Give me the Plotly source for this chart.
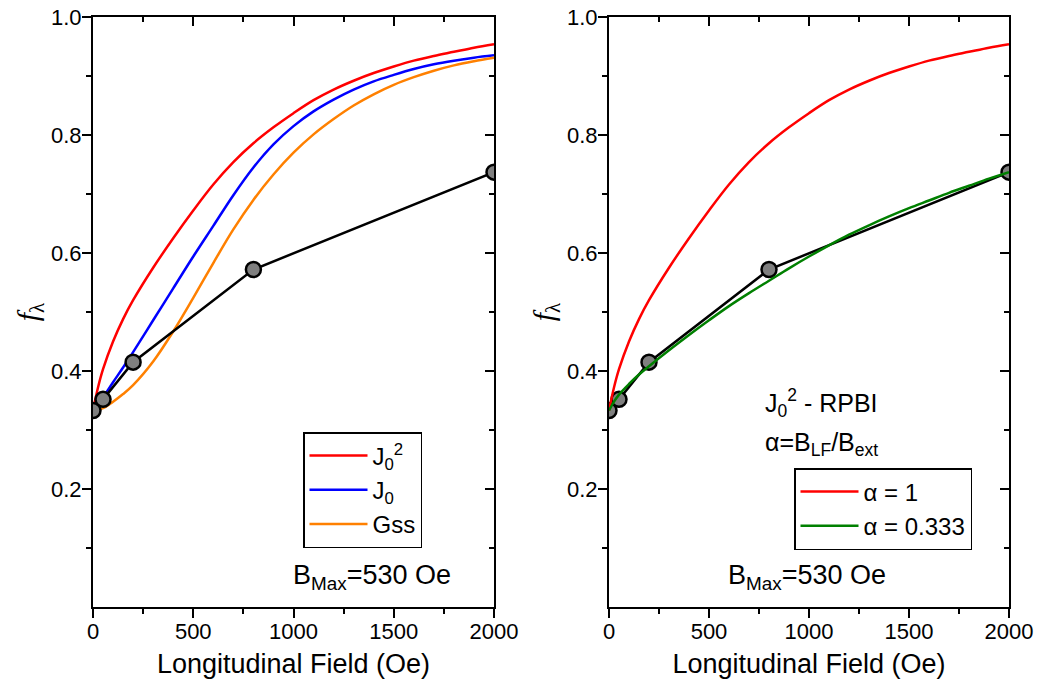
import plotly.graph_objects as go

# ---- data ----
field_pts = [0, 50, 200, 800, 2000]
f_pts = [0.333, 0.352, 0.415, 0.572, 0.737]

curve_field = [0, 25, 50, 100, 150, 200, 300, 400, 500, 600, 700, 800, 900, 1000,
               1100, 1200, 1300, 1400, 1500, 1600, 1700, 1800, 1900, 2000]
j0sq = [0.333, 0.372, 0.403, 0.450, 0.488, 0.520, 0.575, 0.625, 0.672, 0.716,
        0.754, 0.786, 0.813, 0.837, 0.859, 0.877, 0.892, 0.905, 0.916, 0.926,
        0.934, 0.941, 0.948, 0.954]
j0 = [0.333, 0.344, 0.355, 0.381, 0.406, 0.432, 0.486, 0.540, 0.594, 0.646,
      0.698, 0.745, 0.784, 0.815, 0.840, 0.860, 0.877, 0.891, 0.902, 0.912,
      0.920, 0.926, 0.931, 0.935]
gss = [0.333, 0.334, 0.337, 0.348, 0.361, 0.376, 0.416, 0.467, 0.524, 0.583,
       0.640, 0.690, 0.733, 0.770, 0.801, 0.827, 0.850, 0.869, 0.885, 0.898,
       0.909, 0.918, 0.925, 0.931]
alpha_033 = [0.333, 0.348, 0.360, 0.378, 0.394, 0.408, 0.435, 0.461, 0.486,
             0.510, 0.532, 0.553, 0.574, 0.594, 0.613, 0.631, 0.647, 0.662,
             0.676, 0.689, 0.702, 0.714, 0.726, 0.737]

x_ticks = [0, 500, 1000, 1500, 2000]
x_minor = [250, 750, 1250, 1750]
y_ticks = [0.2, 0.4, 0.6, 0.8, 1.0]
y_ticktext = ["0.2", "0.4", "0.6", "0.8", "1.0"]
y_minor = [0.1, 0.3, 0.5, 0.7, 0.9]

FONT = "Liberation Sans, Arial, Helvetica, sans-serif"
SERIF = "Liberation Serif, Times New Roman, serif"
W, H = 1037, 686

fig = go.Figure()

def curve(x, y, color, name, xa, ya, legend, show=True):
    fig.add_trace(go.Scatter(x=x, y=y, mode="lines", name=name,
                             line=dict(color=color, width=2.5, shape="spline", smoothing=1.0),
                             xaxis=xa, yaxis=ya, legend=legend, showlegend=show,
                             hoverinfo="skip"))

def data(xa, ya):
    fig.add_trace(go.Scatter(x=field_pts, y=f_pts, mode="lines+markers",
                             line=dict(color="black", width=2.5),
                             marker=dict(size=15, color="#7f7f7f",
                                         line=dict(color="black", width=2.5)),
                             xaxis=xa, yaxis=ya, showlegend=False))

# left panel
curve(curve_field, j0sq, "#ff0000", "J<sub>0</sub><sup>2</sup>", "x", "y", "legend")
curve(curve_field, j0, "#0000ff", "J<sub>0</sub>", "x", "y", "legend")
curve(curve_field, gss, "#ff8000", "Gss", "x", "y", "legend")
data("x", "y")

# right panel
data("x2", "y2")
curve(curve_field, j0sq, "#ff0000", "\u03b1 = 1", "x2", "y2", "legend2")
curve(curve_field, alpha_033, "#008000", "\u03b1 = 0.333", "x2", "y2", "legend2")

top = 1 - 17 / H
bot = 1 - 607 / H
dl = [93 / W, 494 / W]
dr = [609 / W, 1009 / W]

common_x = dict(range=[0, 2000], showgrid=False, zeroline=False, showline=True,
                linecolor="black", linewidth=2, ticks="outside", ticklen=9,
                tickwidth=2, tickcolor="black", tickvals=x_ticks,
                tickfont=dict(family=FONT, size=22, color="black"),
                ticklabelstandoff=-5,
                minor=dict(tickvals=x_minor, ticks="outside",
                           ticklen=5, tickwidth=2, tickcolor="black"),
                title=dict(text="Longitudinal Field (Oe)",
                           font=dict(family=FONT, size=27, color="black"), standoff=11),
                automargin=False, fixedrange=True)
common_y = dict(range=[0, 1], showgrid=False, zeroline=False, showline=True,
                linecolor="black", linewidth=2, ticks="outside", ticklen=9,
                tickwidth=2, tickcolor="black", tickvals=y_ticks, ticktext=y_ticktext,
                tickfont=dict(family=FONT, size=22, color="black"),
                ticklabelstandoff=-4,
                minor=dict(tickvals=y_minor, ticks="outside",
                           ticklen=5, tickwidth=2, tickcolor="black"),
                title=dict(text="<i>f</i><sub>\u03bb</sub>",
                           font=dict(family=SERIF, size=30, color="black"), standoff=4),
                automargin=False, fixedrange=True)

mirror_x = dict(range=[0, 2000], showgrid=False, zeroline=False, showline=True,
                linecolor="black", linewidth=2, ticks="inside", ticklen=9, tickwidth=2,
                tickcolor="black", tickvals=x_ticks, showticklabels=False, side="top",
                minor=dict(tickvals=x_minor, ticks="inside",
                           ticklen=5, tickwidth=2, tickcolor="black"),
                automargin=False, fixedrange=True)
mirror_y = dict(range=[0, 1], showgrid=False, zeroline=False, showline=True,
                linecolor="black", linewidth=2, ticks="inside", ticklen=9, tickwidth=2,
                tickcolor="black", tickvals=y_ticks, showticklabels=False, side="right",
                minor=dict(tickvals=y_minor, ticks="inside",
                           ticklen=5, tickwidth=2, tickcolor="black"),
                automargin=False, fixedrange=True)

fig.update_layout(
    width=W, height=H,
    margin=dict(l=0, r=0, t=0, b=0),
    paper_bgcolor="white", plot_bgcolor="white",
    xaxis=dict(common_x, domain=dl, anchor="y"),
    yaxis=dict(common_y, domain=[bot, top], anchor="x"),
    xaxis2=dict(common_x, domain=dr, anchor="y2"),
    yaxis2=dict(common_y, domain=[bot, top], anchor="x2"),
    xaxis3=dict(mirror_x, overlaying="x", anchor="y"),
    yaxis3=dict(mirror_y, overlaying="y", anchor="x"),
    xaxis4=dict(mirror_x, overlaying="x2", anchor="y2"),
    yaxis4=dict(mirror_y, overlaying="y2", anchor="x2"),
    legend=dict(x=303 / W, y=1 - 432 / H, xanchor="left", yanchor="top",
                bgcolor="white", bordercolor="black", borderwidth=1.5,
                font=dict(family=FONT, size=24, color="black"),
                itemwidth=58, tracegroupgap=0),
    legend2=dict(x=794 / W, y=1 - 468 / H, xanchor="left", yanchor="top",
                 bgcolor="white", bordercolor="black", borderwidth=1.5,
                 font=dict(family=FONT, size=24, color="black"),
                 itemwidth=58, tracegroupgap=0),
    annotations=[
        dict(text="B<sub>Max</sub>=530 Oe", x=372 / W, y=1 - 596 / H, xref="paper",
             yref="paper", showarrow=False, font=dict(family=FONT, size=27, color="black")),
        dict(text="B<sub>Max</sub>=530 Oe", x=888 / W, y=1 - 596 / H, xref="paper",
             yref="paper", showarrow=False, font=dict(family=FONT, size=27, color="black")),
        dict(text="J<sub>0</sub><sup>2</sup> - RPBI", x=880 / W, y=1 - 403 / H,
             xref="paper", yref="paper", showarrow=False,
             font=dict(family=FONT, size=25, color="black")),
        dict(text="\u03b1=B<sub>LF</sub>/B<sub>ext</sub>", x=880 / W, y=1 - 444 / H,
             xref="paper", yref="paper", showarrow=False,
             font=dict(family=FONT, size=25, color="black")),
    ],
)

# invisible traces so the mirror (top/right) axes are drawn
for xa, ya in [("x3", "y3"), ("x4", "y4")]:
    fig.add_trace(go.Scatter(x=[None], y=[None], xaxis=xa, yaxis=ya,
                             showlegend=False, hoverinfo="skip"))

fig.write_html("out.html", config={"displayModeBar": False},
               post_script="document.body.style.margin='0px';")
